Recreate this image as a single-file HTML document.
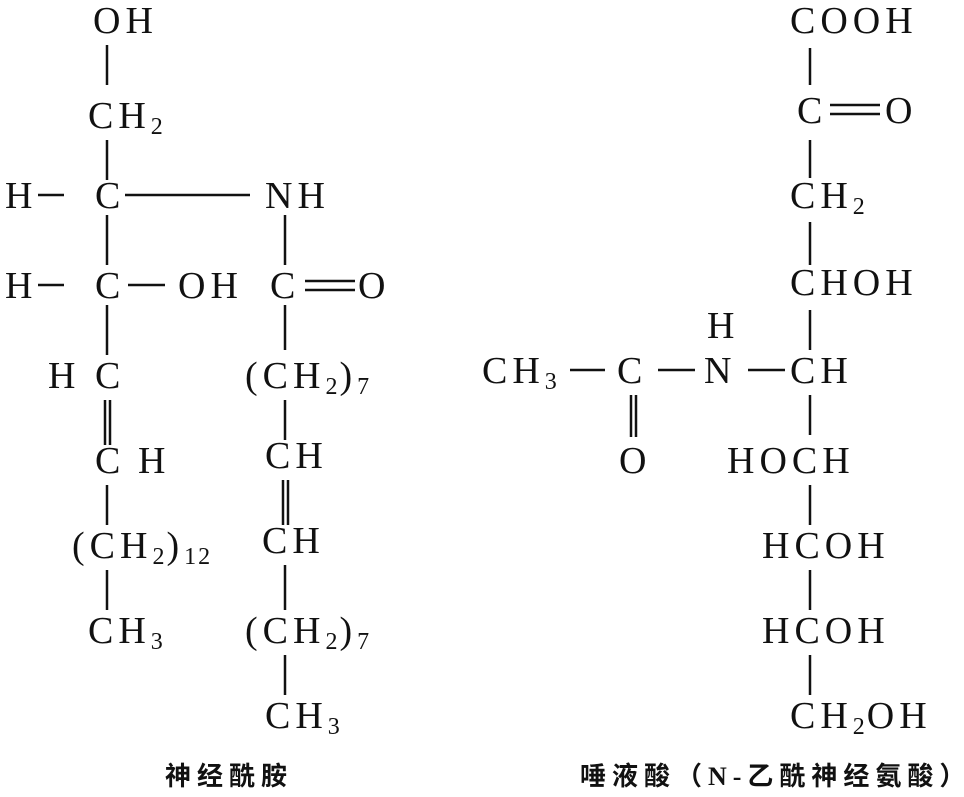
<!DOCTYPE html>
<html><head><meta charset="utf-8"><style>
html,body{margin:0;padding:0;background:#fff;}
svg{display:block;}
text{font-family:"Liberation Serif","Noto Serif CJK SC",serif;font-size:38px;fill:#111;letter-spacing:5px;}
.s{font-size:24px;letter-spacing:2px;}
.cap{font-family:"Liberation Serif","Noto Sans CJK SC",sans-serif;font-size:26px;font-weight:bold;letter-spacing:6px;}
.cap2{font-family:"Liberation Serif","Noto Sans CJK SC",sans-serif;font-size:26px;font-weight:bold;letter-spacing:6px;}
line{stroke:#111;stroke-width:2.5;}
</style></head><body>
<svg width="964" height="797" viewBox="0 0 964 797">
<!-- left -->
<text x="93" y="33">OH</text>
<line x1="107" y1="45" x2="107" y2="85"/>
<text x="88" y="128">CH<tspan class="s" dy="6">2</tspan></text>
<line x1="107" y1="140" x2="107" y2="180"/>
<text x="5" y="208">H</text>
<line x1="38" y1="195" x2="64" y2="195"/>
<text x="95" y="208">C</text>
<line x1="125" y1="195" x2="250" y2="195"/>
<text x="265" y="208">NH</text>
<line x1="107" y1="215" x2="107" y2="265"/>
<text x="5" y="298">H</text>
<line x1="38" y1="285" x2="64" y2="285"/>
<text x="95" y="298">C</text>
<line x1="128" y1="285" x2="165" y2="285"/>
<text x="178" y="298">OH</text>
<line x1="285" y1="215" x2="285" y2="265"/>
<text x="270" y="298">C</text>
<line x1="305" y1="281" x2="355" y2="281"/>
<line x1="305" y1="290" x2="355" y2="290"/>
<text x="358" y="298">O</text>
<line x1="107" y1="305" x2="107" y2="355"/>
<text x="48" y="388">H</text><text x="95" y="388">C</text>
<line x1="105" y1="400" x2="105" y2="445"/>
<line x1="110" y1="400" x2="110" y2="445"/>
<text x="95" y="473">C</text><text x="138" y="473">H</text>
<line x1="107" y1="485" x2="107" y2="525"/>
<text x="72" y="558">(CH<tspan class="s" dy="6">2</tspan><tspan dy="-6">)</tspan><tspan class="s" dy="6">12</tspan></text>
<line x1="107" y1="570" x2="107" y2="610"/>
<text x="88" y="643">CH<tspan class="s" dy="6">3</tspan></text>
<line x1="285" y1="305" x2="285" y2="350"/>
<text x="245" y="388">(CH<tspan class="s" dy="6">2</tspan><tspan dy="-6">)</tspan><tspan class="s" dy="6">7</tspan></text>
<line x1="285" y1="400" x2="285" y2="440"/>
<text x="265" y="468">CH</text>
<line x1="283" y1="480" x2="283" y2="525"/>
<line x1="288" y1="480" x2="288" y2="525"/>
<text x="262" y="553">CH</text>
<line x1="285" y1="565" x2="285" y2="610"/>
<text x="245" y="643">(CH<tspan class="s" dy="6">2</tspan><tspan dy="-6">)</tspan><tspan class="s" dy="6">7</tspan></text>
<line x1="285" y1="655" x2="285" y2="695"/>
<text x="265" y="728">CH<tspan class="s" dy="6">3</tspan></text>
<text class="cap" x="165" y="785">神经酰胺</text>
<!-- right -->
<text x="790" y="33">COOH</text>
<line x1="810" y1="48" x2="810" y2="85"/>
<text x="797" y="123">C</text>
<line x1="830" y1="105" x2="880" y2="105"/>
<line x1="830" y1="114" x2="880" y2="114"/>
<text x="885" y="123">O</text>
<line x1="810" y1="140" x2="810" y2="178"/>
<text x="790" y="208">CH<tspan class="s" dy="6">2</tspan></text>
<line x1="810" y1="222" x2="810" y2="265"/>
<text x="790" y="295">CHOH</text>
<line x1="810" y1="310" x2="810" y2="350"/>
<text x="790" y="383">CH</text>
<text x="482" y="383">CH<tspan class="s" dy="6">3</tspan></text>
<line x1="570" y1="370" x2="605" y2="370"/>
<text x="617" y="383">C</text>
<line x1="658" y1="370" x2="695" y2="370"/>
<text x="704" y="383">N</text>
<line x1="748" y1="370" x2="785" y2="370"/>
<text x="707" y="338">H</text>
<line x1="631" y1="395" x2="631" y2="437"/>
<line x1="636" y1="395" x2="636" y2="437"/>
<text x="619" y="473">O</text>
<line x1="810" y1="395" x2="810" y2="435"/>
<text x="727" y="473">HOCH</text>
<line x1="810" y1="485" x2="810" y2="525"/>
<text x="762" y="558">HCOH</text>
<line x1="810" y1="570" x2="810" y2="610"/>
<text x="762" y="643">HCOH</text>
<line x1="810" y1="655" x2="810" y2="695"/>
<text x="790" y="728">CH<tspan class="s" dy="6">2</tspan><tspan dy="-6">OH</tspan></text>
<text class="cap2" x="580" y="785">唾液酸（N-乙酰神经氨酸）</text>
</svg>
</body></html>
